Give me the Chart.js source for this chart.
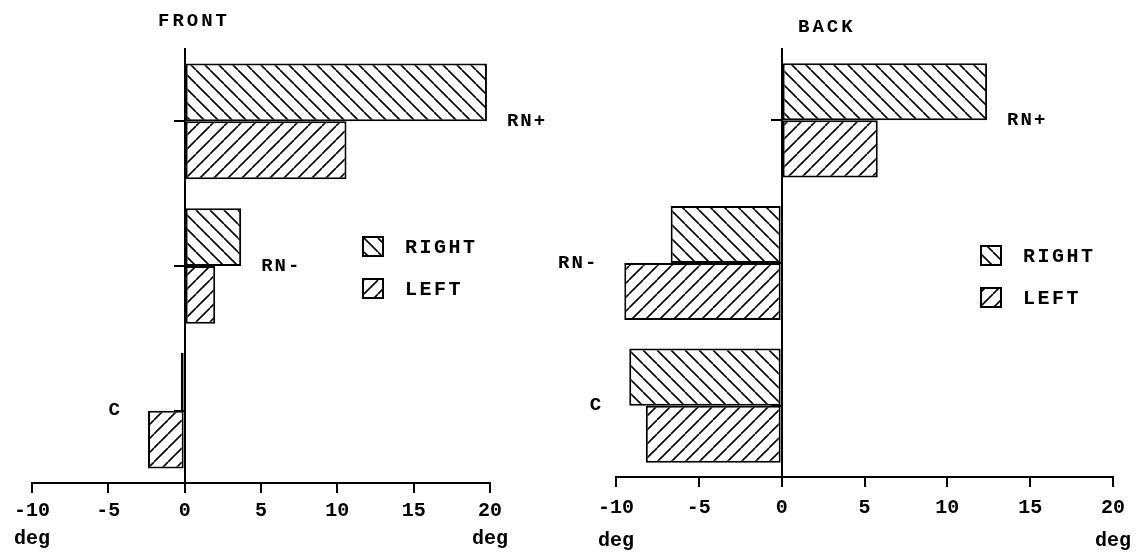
<!DOCTYPE html>
<html>
<head>
<meta charset="utf-8">
<script src="https://cdn.jsdelivr.net/npm/chart.js@4.4.1/dist/chart.umd.min.js"></script>
<style>
  html, body { margin: 0; padding: 0; background: #fff; }
  #wrap { position: relative; width: 1145px; height: 552px; }
  .panel { position: absolute; top: 0; height: 552px; }
  #front { left: 0; width: 572px; }
  #back { left: 545px; width: 600px; }
</style>
</head>
<body>
<div id="wrap">
  <div class="panel" id="front"><canvas id="frontChart"></canvas></div>
  <div class="panel" id="back"><canvas id="backChart"></canvas></div>
</div>
<script>
const CATEGORIES = ['RN+', 'RN-', 'C'];
const SERIES = ['RIGHT', 'LEFT'];
const FRONT_RIGHT = [19.8, 3.7, -0.25];
const FRONT_LEFT = [10.6, 2.0, -2.4];
const BACK_RIGHT = [12.4, -6.7, -9.2];
const BACK_LEFT = [5.8, -9.5, -8.2];
const X_TICKS = [-10, -5, 0, 5, 10, 15, 20];
const UNIT = 'deg';

const FONT = '"Liberation Mono", "DejaVu Sans Mono", monospace';

// diagonal hatching, 'down' = \\\ and 'up' = ///
const hatch = (ctx, dir) => {
  const s = 14;
  const c = document.createElement('canvas');
  c.width = s; c.height = s;
  const g = c.getContext('2d');
  g.fillStyle = '#fff';
  g.fillRect(0, 0, s, s);
  g.strokeStyle = '#000';
  g.lineWidth = 1.6;
  g.beginPath();
  for (const k of [-s, 0, s]) {
    if (dir === 'down') { g.moveTo(k, 0); g.lineTo(k + s, s); }
    else { g.moveTo(k, s); g.lineTo(k + s, 0); }
  }
  g.stroke();
  return ctx.createPattern(c, 'repeat');
};

// title, category names next to the bars, legend inside the plot
const panelDecor = {
  id: 'panelDecor',
  afterDatasetsDraw(chart, args, opts) {
    const { ctx } = chart;
    const xs = chart.scales.x, ys = chart.scales.y;
    ctx.save();
    ctx.fillStyle = '#000';
    ctx.textBaseline = 'middle';

    ctx.font = 'bold 19px ' + FONT;
    ctx.letterSpacing = '3px';
    ctx.textAlign = 'left';
    ctx.fillText(opts.title, opts.titleX, opts.titleY);

    ctx.font = 'bold 19px ' + FONT;
    ctx.letterSpacing = '2px';
    chart.data.labels.forEach((lab, i) => {
      const vals = chart.data.datasets.map(d => d.data[i]);
      const hi = Math.max(...vals), lo = Math.min(...vals);
      const y = ys.getPixelForValue(i);
      if (Math.abs(hi) >= Math.abs(lo)) {
        ctx.textAlign = 'left';
        ctx.fillText(lab, xs.getPixelForValue(hi) + 20, y);
      } else {
        ctx.textAlign = 'right';
        ctx.fillText(lab, xs.getPixelForValue(lo) - 26, y);
      }
    });

    ctx.font = 'bold 20px ' + FONT;
    ctx.letterSpacing = '2.5px';
    ctx.textAlign = 'left';
    chart.data.datasets.forEach((d, k) => {
      const bx = opts.legendX, by = opts.legendY + k * 42;
      ctx.fillStyle = d.backgroundColor;
      ctx.fillRect(bx, by, 20, 19);
      ctx.lineWidth = 2;
      ctx.strokeStyle = '#000';
      ctx.strokeRect(bx, by, 20, 19);
      ctx.fillStyle = '#000';
      ctx.fillText(d.label, bx + 42, by + 11);
    });
    ctx.restore();
  }
};

const makeChart = (id, right, left, deco, padding, axisHeight, lineHeight) => {
  const ctx = document.getElementById(id).getContext('2d');
  return new Chart(ctx, {
    type: 'bar',
    data: {
      labels: CATEGORIES,
      datasets: [
        { label: SERIES[0], data: right, backgroundColor: hatch(ctx, 'down') },
        { label: SERIES[1], data: left, backgroundColor: hatch(ctx, 'up') }
      ]
    },
    options: {
      indexAxis: 'y',
      responsive: true,
      maintainAspectRatio: false,
      animation: false,
      layout: { padding: padding },
      datasets: {
        bar: {
          borderColor: '#000',
          borderWidth: 2,
          borderSkipped: false,
          categoryPercentage: 0.8,
          barPercentage: 1
        }
      },
      plugins: {
        legend: { display: false },
        tooltip: { enabled: false },
        panelDecor: deco
      },
      scales: {
        x: {
          type: 'linear',
          min: X_TICKS[0],
          max: X_TICKS[X_TICKS.length - 1],
          afterBuildTicks: s => { s.ticks = X_TICKS.map(v => ({ value: v })); },
          afterFit: s => { s.height = axisHeight; },
          grid: { drawOnChartArea: false, tickLength: 10, color: '#000', lineWidth: 2 },
          border: { color: '#000', width: 2 },
          ticks: {
            color: '#000',
            padding: 4,
            maxRotation: 0,
            autoSkip: false,
            font: { family: FONT, weight: 'bold', size: 20, lineHeight: lineHeight },
            callback: v => (v === X_TICKS[0] || v === X_TICKS[X_TICKS.length - 1]) ? [String(v), UNIT] : String(v)
          }
        },
        y: {
          type: 'category',
          position: { x: 0 },
          offset: true,
          afterFit: s => { s.width = 0; },
          ticks: { display: false },
          grid: { offset: false, drawOnChartArea: false, tickLength: 10, color: '#000', lineWidth: 2 },
          border: { color: '#000', width: 2 }
        }
      }
    },
    plugins: [panelDecor]
  });
};

const frontChart = makeChart('frontChart', FRONT_RIGHT, FRONT_LEFT,
  { title: 'FRONT', titleX: 158, titleY: 21, legendX: 363, legendY: 237 },
  { left: 32, right: 82, top: 49, bottom: 0 }, 69, 1.4);

const backChart = makeChart('backChart', BACK_RIGHT, BACK_LEFT,
  { title: 'BACK', titleX: 253, titleY: 27, legendX: 436, legendY: 246 },
  { left: 71, right: 32, top: 49, bottom: 0 }, 75, 1.65);
</script>
</body>
</html>
